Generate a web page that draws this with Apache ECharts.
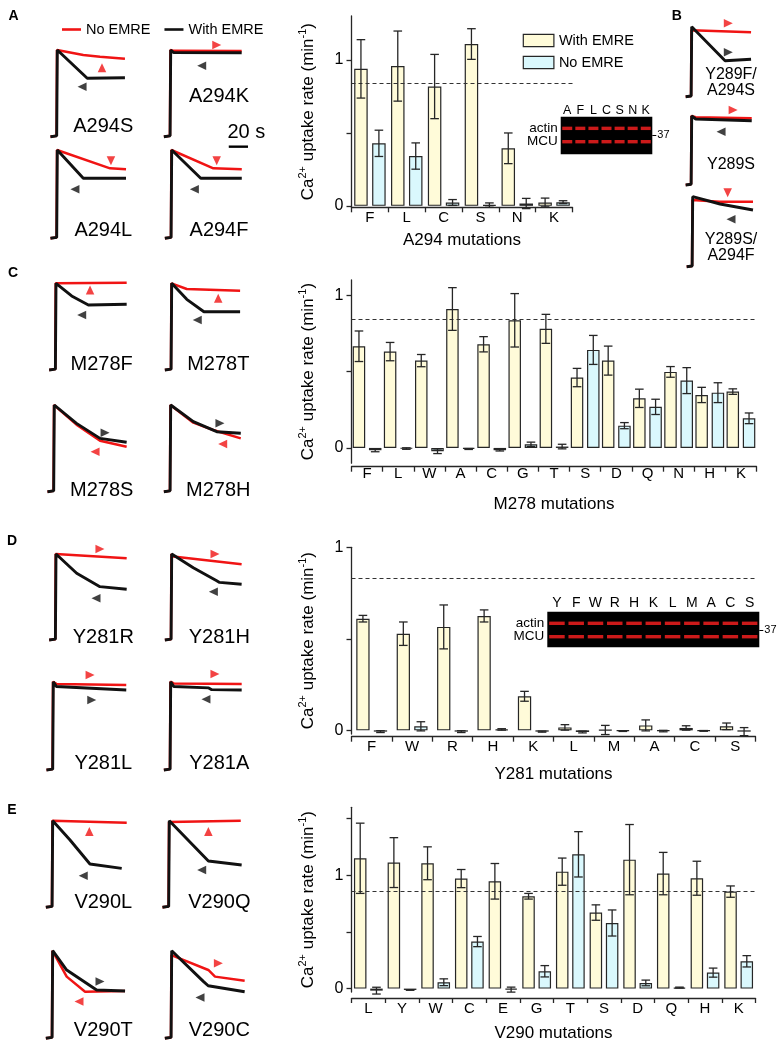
<!DOCTYPE html>
<html><head><meta charset="utf-8">
<script src="https://cdn.jsdelivr.net/npm/echarts@6/dist/echarts.min.js"></script>
<style>html,body{margin:0;padding:0;background:#fff}#c{width:782px;height:1050px}</style>
</head><body><div id="c"></div>
<script>
// ================= BAR DATA (Ca2+ uptake rate, min^-1) =================
const catsA = ['F','L','C','S','N','K'];
const withA = [0.938,0.957,0.817,1.108,0.394,0.023];
const withErrA = [0.20,0.24,0.22,0.105,0.105,0.03];
const noA = [0.428,0.341,0.023,0.005,0.016,0.025];
const noErrA = [0.09,0.09,0.02,0.015,0.035,0.01];
const wtA = 0.845;

const catsC = ['F','L','W','A','C','G','T','S','D','Q','N','H','K'];
const withC = [0.666,0.631,0.572,0.910,0.679,0.836,0.780,0.461,0.572,0.325,0.498,0.347,0.369];
const withErrC = [0.10,0.06,0.04,0.14,0.05,0.175,0.095,0.06,0.095,0.06,0.035,0.05,0.018];
const noC = [-0.015,-0.004,-0.022,-0.007,-0.015,0.024,0.009,0.642,0.146,0.269,0.441,0.362,0.194];
const noErrC = [0.01,0.005,0.015,0.003,0.005,0.014,0.015,0.095,0.02,0.05,0.085,0.065,0.035];
const wtC = 0.836;

const catsD = ['F','W','R','H','K','L','M','A','C','S'];
const withD = [0.610,0.528,0.565,0.625,0.186,0.016,0.002,0.027,0.013,0.022];
const withErrD = [0.018,0.064,0.12,0.033,0.027,0.015,0.025,0.03,0.012,0.018];
const noD = [-0.007,0.022,-0.007,0.005,-0.007,-0.009,-0.004,-0.004,-0.003,-0.007];
const noErrD = [0.005,0.025,0.005,0.004,0.003,0.005,0.002,0.004,0.002,0.022];
const wtD = 0.834;

const catsE = ['L','Y','W','C','E','G','T','S','D','Q','H','K'];
const withE = [1.15,1.112,1.106,0.971,0.947,0.815,1.032,0.671,1.138,1.015,0.974,0.856];
const withErrE = [0.31,0.22,0.145,0.08,0.157,0.025,0.12,0.068,0.31,0.187,0.15,0.05];
const noE = [-0.018,-0.012,0.056,0.415,-0.009,0.153,1.185,0.579,0.05,0.009,0.141,0.241];
const noErrE = [0.03,0.003,0.03,0.045,0.022,0.05,0.2,0.115,0.025,0.004,0.04,0.05];
const wtE = 0.859;

const ticksABD = [0,0.5,1];
const ticksE = [0,0.5,1,1.5];
const tickLabels = [0,1];

// ================= GEL DATA =================
const gelLanesA = ['A','F','L','C','S','N','K'];
const gelBandsYA = [0.69,0.335];   // actin, MCU (relative position in lane)
const gelMarkerYA = 0.513;         // 37 kDa marker
const gelLanesD = ['Y','F','W','R','H','K','L','M','A','C','S'];
const gelBandsYD = [0.674,0.298];
const gelMarkerYD = 0.486;
const gelBandNames = ['actin','MCU'];

// ================= TRACE DATA (time s, fluorescence % of peak) =================
const RISE_W = [[0.5,0],[4.6,1]];
const RISE_N = [[0.5,0],[4.5,1]];
const A294S_with = [[5,100],[24.7,67.4],[49.5,68]];
const A294S_no   = [[4.8,100],[22.1,94.2],[33.1,92.3],[49.5,90]];
const A294S_arw  = [['no',34.4,79.6,'up'],['with',21.3,57.7,'left']];
const A294K_with = [[5,100],[7,97],[51.7,96.9]];
const A294K_no   = [[4.8,100],[7,99],[51.7,98.8]];
const A294K_arw  = [['no',35.3,105.8,'right'],['with',25.4,81.9,'left']];
const A294L_with = [[5,100],[22.1,68],[50.2,68]];
const A294L_no   = [[4.8,100],[39.7,79.2],[50.2,78.1]];
const A294L_arw  = [['no',40.3,87.9,'down'],['with',16.6,55.5,'left']];
const A294F_with = [[5,100],[24.1,68],[51.1,68]];
const A294F_no   = [[4.8,100],[32.4,79.3],[51.1,78.1]];
const A294F_arw  = [['no',34.6,87.9,'down'],['with',19.9,55.5,'left']];
const Y289FA294S_with = [[5,100],[29.9,51.4],[49.3,53.4]];
const Y289FA294S_no   = [[4.8,95],[49.3,92]];
const Y289FA294S_arw  = [['no',32.3,104.9,'right'],['with',32.3,63.4,'right']];
const Y289S_with = [[5,100],[8,95.7],[49.8,93.2]];
const Y289S_no   = [[4.8,100],[8,98.1],[49.8,96.7]];
const Y289S_arw  = [['no',35.9,108.7,'right'],['with',26.9,77.2,'left']];
const Y289SA294F_with = [[5,100],[25.4,89.6],[50,81]];
const Y289SA294F_no   = [[4.8,95.2],[25,92.9],[50,92.9]];
const Y289SA294F_arw  = [['no',31.1,105.7,'down'],['with',33.6,67.7,'left']];
const M278F_with = [[5,100],[15.3,85.4],[26.3,75],[51.5,75.8]];
const M278F_no   = [[4.8,100],[51.5,100.7]];
const M278F_arw  = [['no',27.4,92.3,'up'],['with',21.9,63.4,'left']];
const M278T_with = [[5,100],[14.9,81.5],[26.2,67.2],[50,67.2]];
const M278T_no   = [[4.8,100],[14.9,93.4],[50,91.5]];
const M278T_arw  = [['no',35.6,82.7,'up'],['with',21.8,57.7,'left']];
const M278S_with = [[5,100],[19.6,78.8],[35.1,61.5],[52.6,57]];
const M278S_no   = [[4.8,100],[19.6,77.3],[35.1,58.8],[52.6,51.9]];
const M278S_arw  = [['with',38.4,67.9,'right'],['no',31.8,46.1,'left']];
const M278H_with = [[5,100],[19.9,80.8],[35.3,69.2],[51.1,67.4]];
const M278H_no   = [[4.8,100],[19.9,79.6],[33,71.2],[51.1,61.5]];
const M278H_arw  = [['with',37.4,78.9,'right'],['no',39.2,55,'left']];
const Y281R_with = [[5,100],[18.6,77.6],[33.9,62],[51.5,59]];
const Y281R_no   = [[4.8,100],[51.5,95]];
const Y281R_arw  = [['no',33.9,105.8,'right'],['with',31.3,48.5,'left']];
const Y281H_with = [[5,100],[19.2,84.1],[34.6,69],[35.5,71],[36.5,67],[51,64.8]];
const Y281H_no   = [[4.8,100],[6,97],[51,88]];
const Y281H_arw  = [['no',33.5,100,'right'],['with',32.4,56.2,'left']];
const Y281L_with = [[5,100],[7,94.5],[53,90.6]];
const Y281L_no   = [[4.8,100],[7,97.5],[53,96.3]];
const Y281L_arw  = [['no',29.2,107.6,'right'],['with',30.3,79.3,'right']];
const Y281A_with = [[5,100],[7,94.5],[30,93],[31,95],[32,91],[51.7,90.6]];
const Y281A_no   = [[4.8,100],[7,98],[51.7,97.5]];
const Y281A_arw  = [['no',34.1,108.7,'right'],['with',28.2,80.1,'left']];
const V290L_with = [[5,100],[16.4,77.7],[29.5,50],[50.4,45]];
const V290L_no   = [[4.8,100],[53.7,97.7]];
const V290L_arw  = [['no',29.1,87.5,'up'],['with',25.1,36.4,'left']];
const V290Q_with = [[5,100],[30.7,53.5],[52.6,48.8]];
const V290Q_no   = [[4.8,98.5],[52,100]];
const V290Q_arw  = [['no',30.7,87.5,'up'],['with',26.3,43.1,'left']];
const V290T_with = [[5,100],[14.2,77.9],[33.9,55.1],[52.6,54]];
const V290T_no   = [[4.8,100],[14.2,70.4],[26.3,53.2],[52.6,54]];
const V290T_arw  = [['with',36.1,64.9,'right'],['no',22.3,42,'left']];
const V290C_with = [[5,100],[25.8,65],[27,66.5],[29,60],[53,53.2]];
const V290C_no   = [[4.8,95],[29.1,78],[29.8,80],[33.5,70.4],[53,65.8]];
const V290C_arw  = [['no',35.7,85.6,'right'],['with',23.6,46.5,'left']];
const SCALE_BAR_S = 20;

// ================= BUILD =================
const YEL='#fffbd9', CYA='#daf8fd', EDGE='#262626', RED='#f01414', BLK='#111111';
const FONT='"Liberation Sans", Arial, Helvetica, sans-serif';
const grids=[], xAxes=[], yAxes=[], series=[], graphics=[];
const ROT={up:0,down:180,left:90,right:-90};

function errSeries(xi, yi, vals, errs, dx){
  return {type:'custom', xAxisIndex:xi, yAxisIndex:yi, z:6, silent:true, clip:false,
    data: vals.map((v,i)=>[i,v,errs[i]]),
    renderItem:(params, api)=>{
      const i=api.value(0), v=api.value(1), e=api.value(2);
      const hi=api.coord([i,v+e]), lo=api.coord([i,v-e]);
      const x=hi[0]+dx, cw=4.3;
      const st={stroke:EDGE, lineWidth:1.3};
      return {type:'group', children:[
        {type:'line', shape:{x1:x,y1:hi[1],x2:x,y2:lo[1]}, style:st},
        {type:'line', shape:{x1:x-cw,y1:hi[1],x2:x+cw,y2:hi[1]}, style:st},
        {type:'line', shape:{x1:x-cw,y1:lo[1],x2:x+cw,y2:lo[1]}, style:st}]};
    }};
}

function barPanel(p){
  const gi=grids.length, xi=xAxes.length, yi=yAxes.length;
  grids.push({left:p.left, top:p.top, width:p.width, height:p.height, outerBoundsMode:'none', containLabel:false});
  const ax={color:EDGE,width:1.3};
  xAxes.push({type:'category', gridIndex:gi, data:p.cats, offset:p.xOffset,
    axisLine:{onZero:false, lineStyle:ax}, axisTick:{show:true,length:5,lineStyle:ax},
    axisLabel:{fontSize:15,color:'#000',margin:p.labelMargin,fontFamily:FONT},
    splitLine:{show:false},
    name:p.title, nameLocation:'middle', nameGap:p.nameGap,
    nameTextStyle:{fontSize:17,color:'#000',fontFamily:FONT}});
  yAxes.push({type:'value', gridIndex:gi, min:p.min, max:p.max,
    axisLine:{show:true,lineStyle:ax},
    axisTick:{show:true,length:5,customValues:p.ticks,lineStyle:ax},
    axisLabel:{customValues:tickLabels,fontSize:16,margin:8,color:'#000',fontFamily:FONT},
    splitLine:{show:false},
    name:'Ca{sup|2+} uptake rate (min{sup|-1})', nameLocation:'middle', nameRotate:90, nameGap:32,
    nameTextStyle:{fontSize:17,lineHeight:22,color:'#000',fontFamily:FONT,
      rich:{sup:{fontSize:11,lineHeight:12,verticalAlign:'top',color:'#000',fontFamily:FONT}}}});
  const gapPx=p.barW*p.gap;
  const off=(p.barW+gapPx)/2;
  series.push({type:'bar', name:'With EMRE', xAxisIndex:xi, yAxisIndex:yi, data:p.withV,
    barWidth:p.barW, barGap:(p.gap*100)+'%', silent:true,
    itemStyle:{color:YEL,borderColor:EDGE,borderWidth:1.2}, z:2,
    markLine:{silent:true, symbol:['none','none'], label:{show:false},
      lineStyle:{type:[4,3],color:'#333',width:1.2}, data:[{yAxis:p.wt}]}});
  series.push({type:'bar', name:'No EMRE', xAxisIndex:xi, yAxisIndex:yi, data:p.noV,
    barWidth:p.barW, barGap:(p.gap*100)+'%', silent:true,
    itemStyle:{color:CYA,borderColor:EDGE,borderWidth:1.2}, z:2});
  series.push(errSeries(xi,yi,p.withV,p.withErr,-off));
  series.push(errSeries(xi,yi,p.noV,p.noErr,off));
}

function gelPanel(p){
  const gi=grids.length, xi=xAxes.length, yi=yAxes.length;
  grids.push({left:p.left, top:p.top, width:p.width, height:p.height, show:true,
    backgroundColor:'#000', borderWidth:0, outerBoundsMode:'none', containLabel:false});
  xAxes.push({type:'category', gridIndex:gi, position:'top', data:p.lanes,
    axisLine:{show:false}, axisTick:{show:false}, splitLine:{show:false},
    axisLabel:{fontSize:p.laneFont,margin:p.laneMargin,color:'#000',fontFamily:FONT,interval:0}});
  // one left axis per band so the two names are never hidden as overlapping
  p.bandsY.forEach((y,k)=>{
    yAxes.push({type:'value', gridIndex:gi, position:'left', min:0, max:1, axisLine:{show:false}, axisTick:{show:false},
      splitLine:{show:false},
      axisLabel:{customValues:[y], formatter:()=>gelBandNames[k], fontSize:13.5, margin:3, color:'#000', fontFamily:FONT}});
  });
  yAxes.push({type:'value', gridIndex:gi, position:'right', min:0, max:1, axisLine:{show:false},
    splitLine:{show:false},
    axisTick:{show:true,customValues:[p.marker],length:4,lineStyle:{color:'#000',width:1}},
    axisLabel:{customValues:[p.marker],formatter:()=> '37',fontSize:11,margin:5,color:'#000',fontFamily:FONT}});
  const pts=[];
  p.lanes.forEach((l,i)=>p.bandsY.forEach(y=>pts.push([i,y])));
  series.push({type:'scatter', name:'gel', xAxisIndex:xi, yAxisIndex:yi, data:pts, silent:true,
    symbol:'rect', symbolSize:[p.bandW,3.4], itemStyle:{color:'#ff2020'}, z:3});
}

function tracePanel(p){
  const gi=grids.length, xi=xAxes.length, yi=yAxes.length;
  const sc=p.scale||1.52;
  grids.push({left:p.left, top:p.top, width:55*sc, height:p.h, outerBoundsMode:'none', containLabel:false});
  xAxes.push({type:'value', gridIndex:gi, min:0, max:55, show:false});
  yAxes.push({type:'value', gridIndex:gi, min:0, max:100, show:false});
  series.push({type:'line', name:'No EMRE trace', xAxisIndex:xi, yAxisIndex:yi, data:RISE_N.concat(p.no),
    symbol:'none', clip:false, silent:true, lineStyle:{color:RED,width:2.5}, itemStyle:{color:RED}, z:3});
  series.push({type:'line', name:'With EMRE trace', xAxisIndex:xi, yAxisIndex:yi, data:RISE_W.concat(p.withD),
    symbol:'none', clip:false, silent:true, lineStyle:{color:BLK,width:2.9}, itemStyle:{color:BLK}, z:4});
  ['no','with'].forEach(k=>{
    series.push({type:'scatter', name:k+' arrow', xAxisIndex:xi, yAxisIndex:yi, clip:false, silent:true,
      symbol:'triangle', symbolSize:[8.5,9], itemStyle:{color:k==='no'?RED:BLK}, z:5,
      data:p.arw.filter(a=>a[0]===k).map(a=>({value:[a[1],a[2]], symbolRotate:ROT[a[3]]}))});
  });
  (p.labels||[]).forEach(L=>graphics.push(txt(L[0],L[1],L[2],p.font||20,false)));
  return {xi,yi};
}

function txt(s,x,y,size,bold){
  return {type:'text', x:x, y:y, silent:true, z:10,
    style:{text:s, fontSize:size, fontWeight:bold?'bold':'normal', fontFamily:FONT, fill:'#000',
      align:'center', verticalAlign:'middle', textAlign:'center', textVerticalAlign:'middle'}};
}

// ---- bar panels ----
barPanel({cats:catsA, withV:withA, withErr:withErrA, noV:noA, noErr:noErrA, wt:wtA, title:'A294 mutations',
  left:351.5, top:16, width:221, height:191.3, min:-0.01, max:1.3, ticks:ticksABD, xOffset:0, labelMargin:3, nameGap:25, barW:13.5, gap:0.33});
barPanel({cats:catsC, withV:withC, withErr:withErrC, noV:noC, noErr:noErrC, wt:wtC, title:'M278 mutations',
  left:351.5, top:280, width:405, height:183.2, min:-0.1, max:1.1, ticks:ticksABD, xOffset:3.5, labelMargin:0, nameGap:29, barW:12.5, gap:0.3});
barPanel({cats:catsD, withV:withD, withErr:withErrD, noV:noD, noErr:noErrD, wt:wtD, title:'Y281 mutations',
  left:351.5, top:547.3, width:404, height:186.7, min:-0.02, max:1, ticks:ticksABD, xOffset:2.7, labelMargin:3, nameGap:29, barW:13.3, gap:0.32});
barPanel({cats:catsE, withV:withE, withErr:withErrE, noV:noE, noErr:noErrE, wt:wtE, title:'V290 mutations',
  left:351.5, top:807.3, width:404, height:184.7, min:-0.03, max:1.6, ticks:ticksE, xOffset:6, labelMargin:3, nameGap:27, barW:12.5, gap:0.3});

// ---- gels ----
gelPanel({lanes:gelLanesA, bandsY:gelBandsYA, marker:gelMarkerYA, left:560.7, top:116.7, width:91.6, height:37.6, laneFont:12.5, laneMargin:0, bandW:10});
gelPanel({lanes:gelLanesD, bandsY:gelBandsYD, marker:gelMarkerYD, left:547.3, top:611.7, width:212, height:35.6, laneFont:14, laneMargin:2, bandW:15.5});

// ---- traces ----
const tK = tracePanel({left:163.1, top:50, h:86.7, withD:A294K_with, no:A294K_no, arw:A294K_arw, labels:[['A294K',219,96.7]]});
tracePanel({left:49.7, top:50, h:86.7, withD:A294S_with, no:A294S_no, arw:A294S_arw, labels:[['A294S',103.3,126.7]]});
tracePanel({left:49.7, top:150, h:88.3, withD:A294L_with, no:A294L_no, arw:A294L_arw, labels:[['A294L',103.3,230]]});
tracePanel({left:164.1, top:150, h:88.3, withD:A294F_with, no:A294F_no, arw:A294F_arw, labels:[['A294F',219,230]]});
tracePanel({left:685, top:26.7, h:70, scale:1.34, withD:Y289FA294S_with, no:Y289FA294S_no, arw:Y289FA294S_arw, font:16, labels:[['Y289F/',731,75],['A294S',731,90.8]]});
tracePanel({left:685, top:116, h:69, scale:1.34, withD:Y289S_with, no:Y289S_no, arw:Y289S_arw, font:16, labels:[['Y289S',731,164.3]]});
tracePanel({left:686, top:196.7, h:70, scale:1.34, withD:Y289SA294F_with, no:Y289SA294F_no, arw:Y289SA294F_arw, font:16, labels:[['Y289S/',731,239.2],['A294F',731,255.8]]});
tracePanel({left:48.4, top:283.3, h:86.7, withD:M278F_with, no:M278F_no, arw:M278F_arw, labels:[['M278F',101.7,364.3]]});
tracePanel({left:164.1, top:283.3, h:86.7, withD:M278T_with, no:M278T_no, arw:M278T_arw, labels:[['M278T',218.3,364.3]]});
tracePanel({left:46.7, top:405, h:86.7, withD:M278S_with, no:M278S_no, arw:M278S_arw, labels:[['M278S',101.7,490]]});
tracePanel({left:163.1, top:405, h:86.7, withD:M278H_with, no:M278H_no, arw:M278H_arw, labels:[['M278H',218.3,490]]});
tracePanel({left:48.4, top:554, h:86, withD:Y281R_with, no:Y281R_no, arw:Y281R_arw, labels:[['Y281R',103.3,637]]});
tracePanel({left:164.1, top:554, h:86, withD:Y281H_with, no:Y281H_no, arw:Y281H_arw, labels:[['Y281H',219.3,637]]});
tracePanel({left:45.7, top:681.7, h:88.3, withD:Y281L_with, no:Y281L_no, arw:Y281L_arw, labels:[['Y281L',103.3,763.3]]});
tracePanel({left:163.1, top:681.7, h:88.3, withD:Y281A_with, no:Y281A_no, arw:Y281A_arw, labels:[['Y281A',219.3,763.3]]});
tracePanel({left:45.1, top:820.7, h:86.6, withD:V290L_with, no:V290L_no, arw:V290L_arw, labels:[['V290L',103.3,902.3]]});
tracePanel({left:161.7, top:820.7, h:86.6, withD:V290Q_with, no:V290Q_no, arw:V290Q_arw, labels:[['V290Q',219.3,902.3]]});
tracePanel({left:45.1, top:950.7, h:87.6, withD:V290T_with, no:V290T_no, arw:V290T_arw, labels:[['V290T',103.3,1030]]});
tracePanel({left:164.1, top:950.7, h:87.6, withD:V290C_with, no:V290C_no, arw:V290C_arw, labels:[['V290C',219.3,1030]]});

// scale bar (20 s) in the A294K panel's time axis
series.push({type:'line', name:'scale bar', xAxisIndex:tK.xi, yAxisIndex:tK.yi, clip:false, silent:true, symbol:'none',
  data:[[43.2,-11.5],[43.2+SCALE_BAR_S,-11.5]], lineStyle:{color:'#000',width:2.4}});
graphics.push(txt('20 s',246.3,132.5,20,false));

// panel letters
[['A',13.5,16],['B',676.7,15.7],['C',13,273.5],['D',12,541],['E',12,810.5]].forEach(l=>graphics.push(txt(l[0],l[1],l[2],14,true)));

const chart = echarts.init(document.getElementById('c'), null, {renderer:'canvas'});
chart.setOption({
  animation:false,
  backgroundColor:'#fff',
  textStyle:{fontFamily:FONT},
  legend:[
    {data:['With EMRE','No EMRE'], left:517.7, top:28, orient:'vertical', icon:'rect',
     itemWidth:30.6, itemHeight:12.4, itemGap:7, selectedMode:false,
     itemStyle:{borderColor:EDGE,borderWidth:1.2},
     textStyle:{fontSize:14.5,color:'#000',fontFamily:FONT}},
    {data:['No EMRE trace','With EMRE trace'], left:57, top:17, orient:'horizontal', icon:'rect',
     itemWidth:19, itemHeight:2.6, itemGap:14, selectedMode:false,
     formatter:(n)=>n.replace(' trace',''),
     textStyle:{fontSize:14.5,color:'#000',fontFamily:FONT}}
  ],
  grid:grids, xAxis:xAxes, yAxis:yAxes, series:series, graphic:graphics
});
</script></body></html>
